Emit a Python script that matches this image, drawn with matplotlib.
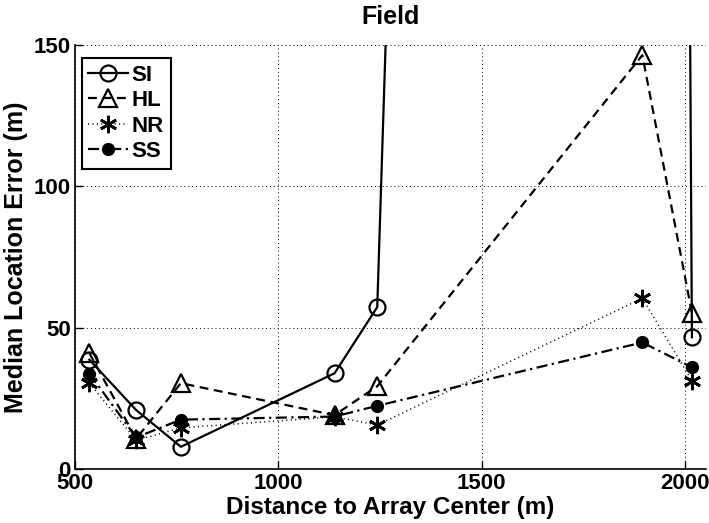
import matplotlib
matplotlib.use("Agg")
import matplotlib.pyplot as plt

plt.rcParams["font.family"] = ["Liberation Sans", "DejaVu Sans"]
plt.rcParams["font.weight"] = "bold"

# Distances (m) and median errors (m)
distance = [535, 650, 760, 1138, 1243, 1895, 2017]
si_err = [38.7, 20.9, 7.9, 33.9, 57.3, 3000, 46.6]
hl_err = [41.0, 10.8, 30.4, 19.1, 29.3, 146.4, 55.2]
nr_err = [30.4, 10.2, 14.6, 18.5, 15.6, 60.4, 31.3]
ss_err = [33.8, 11.2, 17.5, 18.6, 22.4, 44.8, 36.0]

labels = ["SI", "HL", "NR", "SS"]
x_ticks = [500, 1000, 1500, 2000]
y_ticks = [0, 50, 100, 150]


def main():
    fig = plt.figure(figsize=(7.09, 5.23), dpi=100)
    ax = fig.add_axes([0.106, 0.103, 0.89, 0.811])

    lw = 1.6
    ax.plot(distance, si_err, color="black", linestyle="-", linewidth=lw,
            marker="o", markersize=11.5, markerfacecolor="none",
            markeredgewidth=1.6, label=labels[0])
    ax.plot(distance, hl_err, color="black", linestyle=(0, (4, 2.5)), linewidth=lw,
            marker="^", markersize=12.5, markerfacecolor="none",
            markeredgewidth=1.6, label=labels[1])
    ax.plot(distance, nr_err, color="black", linestyle=(0, (0.7, 2.2)), linewidth=1.1,
            marker=(6, 2, 0), markersize=12.5, markeredgewidth=2.0,
            label=labels[2])
    ax.plot(distance, ss_err, color="black", linestyle=(0, (5, 2, 1, 2)), linewidth=lw,
            marker="o", markersize=8.5, markerfacecolor="black",
            label=labels[3])

    ax.set_xlim(500, 2052)
    ax.set_ylim(0, 150)
    ax.set_xticks(x_ticks)
    ax.set_yticks(y_ticks)
    ax.tick_params(direction="in", length=6, width=1, labelsize=16,
                   top=False, right=False, pad=3)
    for lab in ax.get_xticklabels() + ax.get_yticklabels():
        lab.set_fontweight("bold")

    ax.grid(True, color="black", linestyle=(0, (1, 3)), linewidth=0.7)
    for side in ["top", "right"]:
        ax.spines[side].set_visible(False)
    for side in ["left", "bottom"]:
        ax.spines[side].set_linewidth(1.2)

    ax.set_title("Field", fontsize=18, fontweight="bold", pad=15)
    ax.set_xlabel("Distance to Array Center (m)", fontsize=17.5,
                  fontweight="bold", labelpad=1)
    ax.set_ylabel("Median Location Error (m)", fontsize=18,
                  fontweight="bold", labelpad=4)

    leg = ax.legend(loc="upper left", bbox_to_anchor=(0.0, 0.985),
                    fancybox=False, framealpha=1, edgecolor="black",
                    prop={"weight": "bold", "size": 16},
                    handlelength=1.8, handletextpad=0.15,
                    borderpad=0.3, labelspacing=0.2, borderaxespad=0.3)
    leg.get_frame().set_linewidth(1.5)

    fig.savefig("out.png", dpi=100)


if __name__ == "__main__":
    main()
